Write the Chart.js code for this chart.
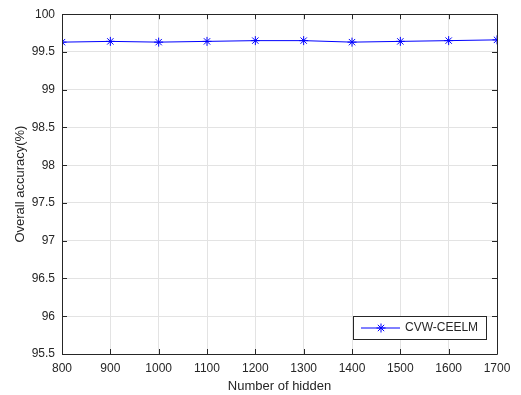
<!DOCTYPE html>
<html>
<head>
<meta charset="utf-8">
<script src="https://cdn.jsdelivr.net/npm/chart.js@4/dist/chart.umd.min.js"></script>
<style>
  html, body { margin: 0; padding: 0; background: #fff; }
  #wrap { width: 521px; height: 395px; }
</style>
</head>
<body>
<div id="wrap"><canvas id="chart" width="521" height="395"></canvas></div>
<script>
const hidden = [800, 900, 1000, 1100, 1200, 1300, 1400, 1500, 1600, 1700];
const accuracy = [99.63, 99.64, 99.63, 99.64, 99.65, 99.65, 99.63, 99.64, 99.65, 99.66];
const seriesName = 'CVW-CEELM';
const xTitle = 'Number of hidden';
const yTitle = 'Overall accuracy(%)';

const FONT = 'Liberation Sans, Arial, Helvetica, sans-serif';
const TXT = '#262626';

// box round the axes, inward tick marks, legend in the lower right corner
const matlabBox = {
    id: 'matlabBox',
    afterDatasetsDraw(chart) {
        const ctx = chart.ctx;
        const a = chart.chartArea;
        const xs = chart.scales.x, ys = chart.scales.y;
        ctx.save();
        ctx.strokeStyle = '#262626';
        ctx.lineWidth = 1;
        ctx.beginPath();
        ctx.rect(Math.round(a.left) + 0.5, Math.round(a.top) + 0.5,
                 Math.round(a.right - a.left), Math.round(a.bottom - a.top));
        ctx.stroke();
        const len = 5;
        ctx.beginPath();
        xs.ticks.forEach(t => {
            const px = Math.round(xs.getPixelForValue(t.value)) + 0.5;
            ctx.moveTo(px, a.bottom); ctx.lineTo(px, a.bottom - len);
            ctx.moveTo(px, a.top); ctx.lineTo(px, a.top + len);
        });
        ys.ticks.forEach(t => {
            const py = Math.round(ys.getPixelForValue(t.value)) + 0.5;
            ctx.moveTo(a.left, py); ctx.lineTo(a.left + len, py);
            ctx.moveTo(a.right, py); ctx.lineTo(a.right - len, py);
        });
        ctx.stroke();

        // legend
        const bx = Math.round(a.right) - 144, by = Math.round(a.bottom) - 38;
        const bw = 133, bh = 23;
        ctx.fillStyle = '#fff';
        ctx.fillRect(bx, by, bw, bh);
        ctx.strokeStyle = '#262626';
        ctx.strokeRect(bx + 0.5, by + 0.5, bw, bh);
        const ds = chart.data.datasets[0];
        const cy = by + bh / 2 + 0.5;
        ctx.strokeStyle = ds.borderColor;
        ctx.beginPath();
        ctx.moveTo(bx + 8, cy); ctx.lineTo(bx + 47, cy);
        ctx.stroke();
        Chart.helpers.drawPoint(ctx, {pointStyle: 'star', radius: 4.5, borderWidth: 1}, bx + 28, cy);
        ctx.fillStyle = TXT;
        ctx.font = '12px ' + FONT;
        ctx.textBaseline = 'middle';
        ctx.fillText(ds.label, bx + 52, cy);
        ctx.restore();
    }
};

const points = hidden.map((h, i) => ({x: h, y: accuracy[i]}));

new Chart(document.getElementById('chart').getContext('2d'), {
    type: 'line',
    data: {
        datasets: [{
            label: seriesName,
            data: points,
            borderColor: '#0000ff',
            backgroundColor: '#0000ff',
            borderWidth: 1,
            pointStyle: 'star',
            pointRadius: 4.5,
            pointBorderWidth: 1,
            pointBorderColor: '#0000ff',
            tension: 0,
            fill: false
        }]
    },
    options: {
        responsive: false,
        animation: false,
        layout: { padding: { top: 10, right: 24, left: 0, bottom: 0 }, autoPadding: false },
        plugins: { legend: { display: false }, tooltip: { enabled: false } },
        scales: {
            x: {
                type: 'linear',
                min: 800, max: 1700,
                ticks: { stepSize: 100, color: TXT, font: { family: FONT, size: 12 }, padding: 7, maxRotation: 0,
                         callback: v => String(v) },
                grid: { color: '#e3e3e3', drawTicks: false },
                border: { display: false },
                title: { display: true, text: xTitle, color: TXT, font: { family: FONT, size: 13 }, padding: { top: 0, bottom: 1 } },
                afterFit(scale) { scale.height = 41; }
            },
            y: {
                min: 95.5, max: 100,
                ticks: { stepSize: 0.5, color: TXT, font: { family: FONT, size: 12 }, padding: 7,
                         callback: v => String(v) },
                grid: { color: '#e3e3e3', drawTicks: false },
                border: { display: false },
                title: { display: true, text: yTitle, color: TXT, font: { family: FONT, size: 13 }, padding: { top: 13, bottom: 0 } },
                afterFit(scale) { scale.width = 62; }
            }
        }
    },
    plugins: [matlabBox]
});
</script>
</body>
</html>
